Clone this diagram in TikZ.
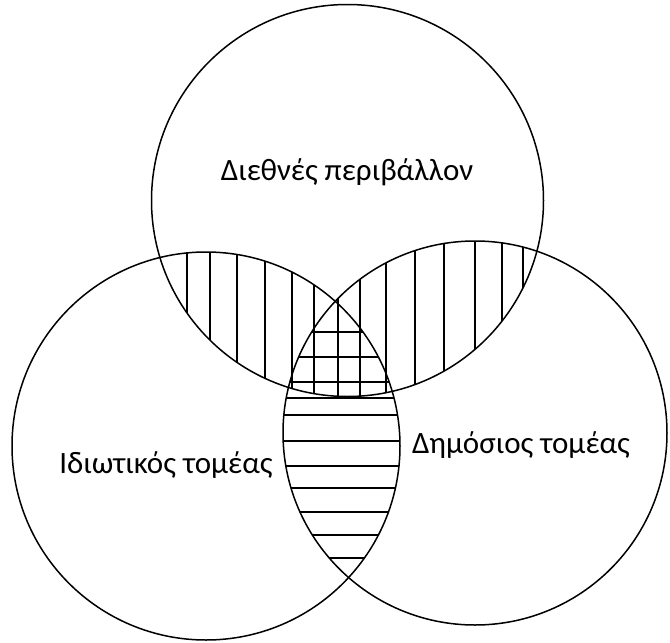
\documentclass[tikz,border=0pt]{standalone}
\usepackage{fontspec}
\setmainfont{Carlito}
\begin{document}
\begin{tikzpicture}[x=1pt,y=-1pt,
  ring/.style={draw=black,line width=1.5pt},
  hatch/.style={draw=black,line width=1.3pt},
  lbl/.style={font=\fontsize{31}{36}\selectfont,inner sep=0pt}]
\useasboundingbox (0,0) rectangle (670,643);
\coordinate (T) at (347.5,200.5);
\coordinate (L) at (206,446);
\coordinate (R) at (475,433);
\def\rT{196}\def\rL{194}\def\rR{192}
% vertical hatching: top & left
\begin{scope}
  \clip (T) circle[radius=\rT];
  \clip (L) circle[radius=\rL];
  \foreach \x in {187,210,237,265,292,314,338,360,386,415,444,475,502,523}
    \draw[hatch] (\x,0) -- (\x,643);
\end{scope}
% vertical hatching: top & right
\begin{scope}
  \clip (T) circle[radius=\rT];
  \clip (R) circle[radius=\rR];
  \foreach \x in {187,210,237,265,292,314,338,360,386,415,444,475,502,523}
    \draw[hatch] (\x,0) -- (\x,643);
\end{scope}
% horizontal hatching: left & right
\begin{scope}
  \clip (L) circle[radius=\rL];
  \clip (R) circle[radius=\rR];
  \foreach \y in {332,357,382,398,415,441,466,488,512,535,558}
    \draw[hatch] (0,\y) -- (670,\y);
\end{scope}
\draw[ring] (T) circle[radius=\rT];
\draw[ring] (L) circle[radius=\rL];
\draw[ring] (R) circle[radius=\rR];
\node[lbl] (dieth) at (347,172) {Διεθνές περιβάλλον};
\node[lbl] (idiot) at (166,465) {Ιδιωτικός τομέας};
\node[lbl] (dimos) at (521,445) {Δημόσιος τομέας};
\end{tikzpicture}
\end{document}
